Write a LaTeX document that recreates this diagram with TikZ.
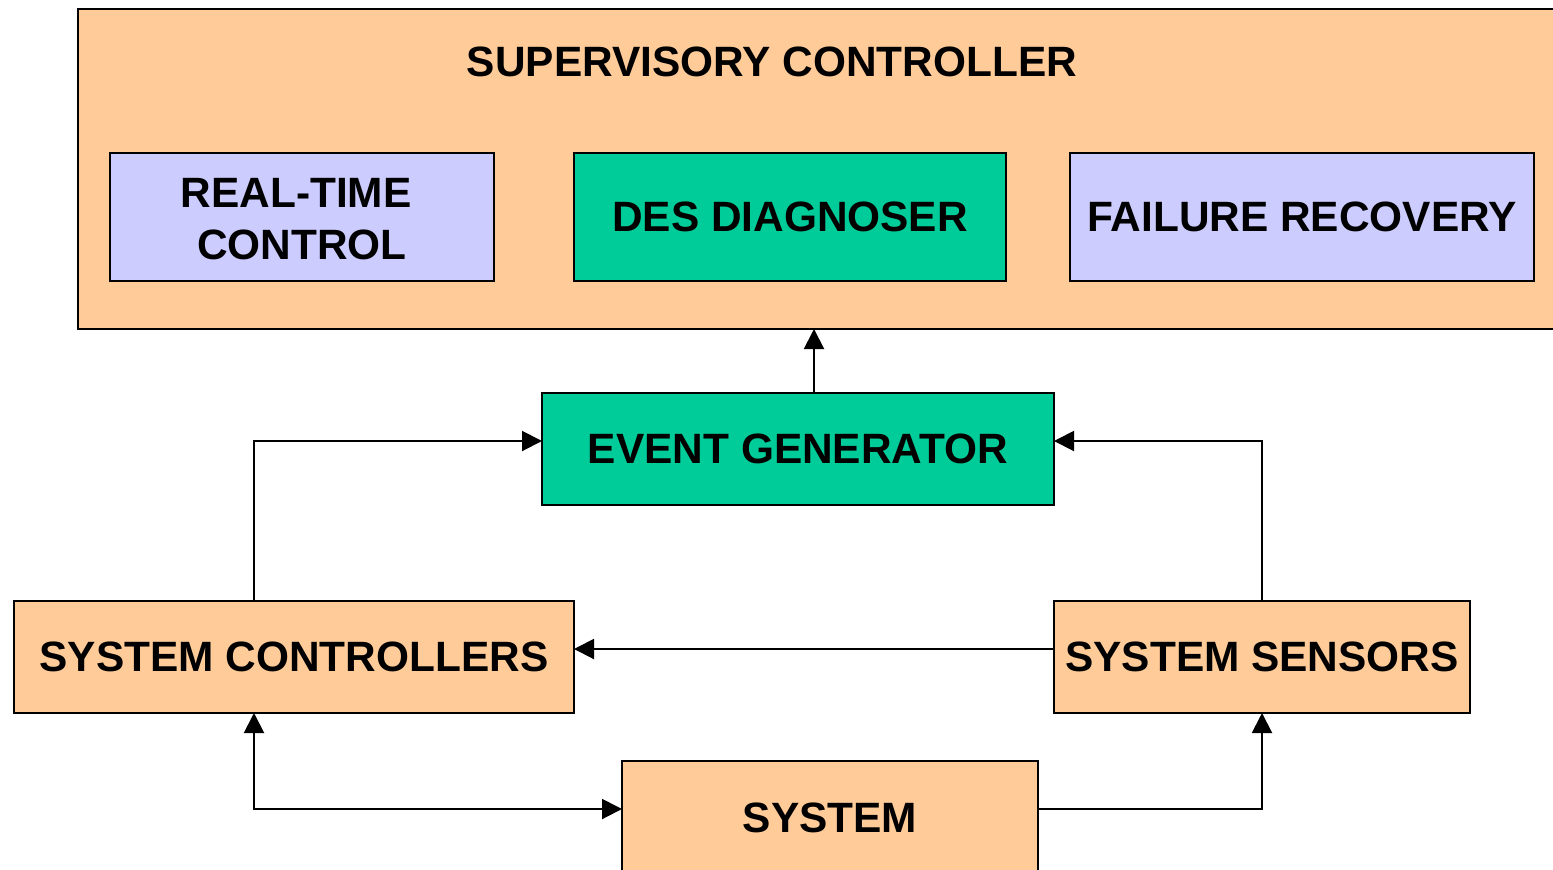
\documentclass[tikz,border=0pt]{standalone}
\usepackage{fontspec}
\setmainfont{Liberation Sans}
\usetikzlibrary{arrows.meta}
\definecolor{peach}{HTML}{FFCC99}
\definecolor{lav}{HTML}{CCCCFF}
\definecolor{teal}{HTML}{00CC99}
\tikzset{
  blk/.style={draw=black, line width=1pt, outer sep=0pt, align=center,
    font=\fontsize{21.2}{26}\selectfont\bfseries, inner sep=0pt},
  orangebox/.style={blk, fill=peach},
  lavbox/.style={blk, fill=lav},
  greenbox/.style={blk, fill=teal},
  arr/.style={line width=1pt, -{Triangle[length=10pt,width=10pt]}},
  dblarr/.style={line width=1pt, {Triangle[length=10pt,width=10pt]}-{Triangle[length=10pt,width=10pt]}}
}
\begin{document}
\begin{tikzpicture}[x=0.5pt,y=-0.5pt]
  \useasboundingbox (0,0) rectangle (1553,869);
  \clip (0,0) rectangle (1553,869);
  % supervisory controller container
  \node[orangebox, minimum width=741pt, minimum height=160pt] (sup) at (819,169) {};
  \node[blk, draw=none] (suptitle) at (772,62) {SUPERVISORY CONTROLLER};
  \node[lavbox, minimum width=192pt, minimum height=64pt] (rt) at (302,217) {};
  \node[blk, draw=none] (rtlabel) at (302,219) {REAL-TIME\hspace*{0.278em}\\CONTROL};
  \node[greenbox, minimum width=216pt, minimum height=64pt] (des) at (790,217) {DES DIAGNOSER};
  \node[lavbox, minimum width=232pt, minimum height=64pt] (fr) at (1302,217) {FAILURE RECOVERY};
  % lower blocks
  \node[greenbox, minimum width=256pt, minimum height=56pt] (eg) at (798,449) {EVENT GENERATOR};
  \node[orangebox, minimum width=280pt, minimum height=56pt] (sc) at (294,657) {SYSTEM CONTROLLERS};
  \node[orangebox, minimum width=208pt, minimum height=56pt] (ss) at (1262,657) {SYSTEM SENSORS};
  \node[orangebox, minimum width=208pt, minimum height=57pt] (sys) at (830,818) {SYSTEM};
  % guide coordinates for connector routing
  \coordinate (ux) at (814,0);
  \coordinate (lx) at (254,0);
  \coordinate (ay) at (0,441);
  \coordinate (my) at (0,649);
  \coordinate (by) at (0,809);
  % connectors
  \draw[arr] (eg.north -| ux) -- (sup.south -| ux);
  \draw[arr] (sc.north -| lx) |- (eg.west |- ay);
  \draw[arr] (ss.north) |- (eg.east |- ay);
  \draw[arr] (ss.west |- my) -- (sc.east |- my);
  \draw[dblarr] (sc.south -| lx) |- (sys.west |- by);
  \draw[arr] (sys.east |- by) -| (ss.south);
\end{tikzpicture}
\end{document}
